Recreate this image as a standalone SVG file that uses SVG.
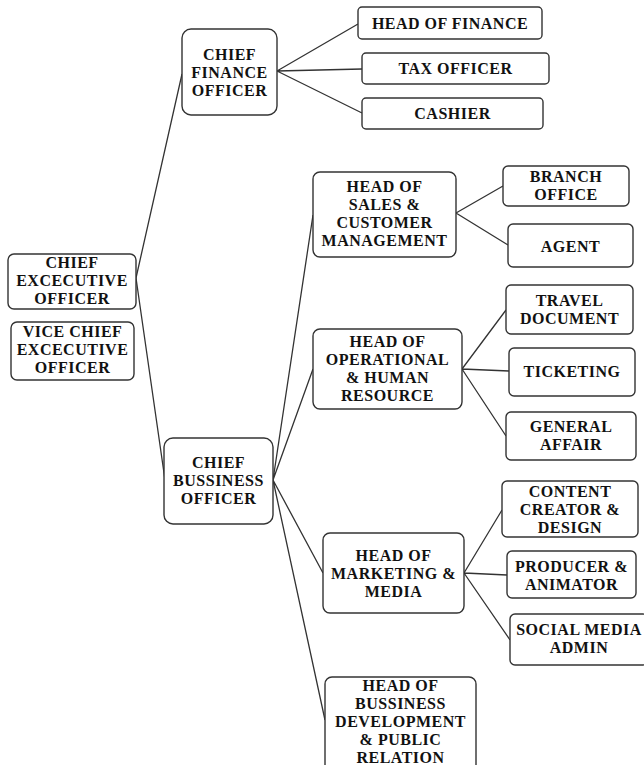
<svg xmlns="http://www.w3.org/2000/svg" width="644" height="765" viewBox="0 0 644 765">
<style>
.box{fill:#fff;stroke:#333;stroke-width:1.4}
.t{font-family:"Liberation Serif","Times New Roman",serif;font-weight:bold;font-size:16px;letter-spacing:0.5px;fill:#111;text-anchor:middle}
.c{stroke:#333;stroke-width:1.3;fill:none}
</style>
<rect width="644" height="765" fill="#fff"/>
<g id="connectors">
<path class="c" d="M136,278 L182,74 M136,278 L165,480"/>
<path class="c" d="M277,71 L358,24 M277,71 L362,69 M277,71 L362,113"/>
<path class="c" d="M273,480 L313,215 M273,480 L313,369 M273,480 L323,573 M273,480 L325,720"/>
<path class="c" d="M456,213 L503,186 M456,213 L508,245"/>
<path class="c" d="M462,369 L506,310 M462,369 L509,371 M462,369 L506,436"/>
<path class="c" d="M464,573 L502,510 M464,573 L507,575 M464,573 L510,640"/>
</g>
<g id="ceo"><rect class="box" x="8" y="254" width="128" height="55" rx="6"/>
<text class="t" x="72" y="268">CHIEF</text><text class="t" x="72" y="286">EXCECUTIVE</text><text class="t" x="72" y="304">OFFICER</text></g>
<g id="vceo"><rect class="box" x="11" y="322" width="123" height="58" rx="6"/>
<text class="t" x="72.5" y="337">VICE CHIEF</text><text class="t" x="72.5" y="355">EXCECUTIVE</text><text class="t" x="72.5" y="373">OFFICER</text></g>
<g id="cfo"><rect class="box" x="182" y="29" width="95" height="86" rx="9"/>
<text class="t" x="229.5" y="60">CHIEF</text><text class="t" x="229.5" y="78">FINANCE</text><text class="t" x="229.5" y="96">OFFICER</text></g>
<g id="hof"><rect class="box" x="358" y="7" width="184" height="32" rx="4"/>
<text class="t" x="450" y="29">HEAD OF FINANCE</text></g>
<g id="tax"><rect class="box" x="362" y="53" width="187" height="31" rx="4"/>
<text class="t" x="455.5" y="74">TAX OFFICER</text></g>
<g id="cashier"><rect class="box" x="362" y="98" width="181" height="31" rx="4"/>
<text class="t" x="452.5" y="119">CASHIER</text></g>
<g id="cbo"><rect class="box" x="164" y="438" width="109" height="86" rx="9"/>
<text class="t" x="218.5" y="468">CHIEF</text><text class="t" x="218.5" y="486">BUSSINESS</text><text class="t" x="218.5" y="504">OFFICER</text></g>
<g id="sales"><rect class="box" x="313" y="172" width="143" height="85" rx="7"/>
<text class="t" x="384.5" y="192">HEAD OF</text><text class="t" x="384.5" y="210">SALES &amp;</text><text class="t" x="384.5" y="228">CUSTOMER</text><text class="t" x="384.5" y="246">MANAGEMENT</text></g>
<g id="branch"><rect class="box" x="503" y="166" width="126" height="40" rx="5"/>
<text class="t" x="566" y="182">BRANCH</text><text class="t" x="566" y="200">OFFICE</text></g>
<g id="agent"><rect class="box" x="508" y="224" width="125" height="43" rx="5"/>
<text class="t" x="570.5" y="252">AGENT</text></g>
<g id="operational"><rect class="box" x="313" y="329" width="149" height="80" rx="7"/>
<text class="t" x="387.5" y="347">HEAD OF</text><text class="t" x="387.5" y="365">OPERATIONAL</text><text class="t" x="387.5" y="383">&amp; HUMAN</text><text class="t" x="387.5" y="401">RESOURCE</text></g>
<g id="travel"><rect class="box" x="506" y="285" width="127" height="49" rx="5"/>
<text class="t" x="569.5" y="306">TRAVEL</text><text class="t" x="569.5" y="324">DOCUMENT</text></g>
<g id="ticketing"><rect class="box" x="509" y="348" width="126" height="48" rx="5"/>
<text class="t" x="572" y="377">TICKETING</text></g>
<g id="general"><rect class="box" x="506" y="412" width="130" height="48" rx="5"/>
<text class="t" x="571" y="432">GENERAL</text><text class="t" x="571" y="450">AFFAIR</text></g>
<g id="marketing"><rect class="box" x="323" y="533" width="141" height="80" rx="7"/>
<text class="t" x="393.5" y="561">HEAD OF</text><text class="t" x="393.5" y="579">MARKETING &amp;</text><text class="t" x="393.5" y="597">MEDIA</text></g>
<g id="content"><rect class="box" x="502" y="481" width="136" height="56" rx="5"/>
<text class="t" x="570" y="497">CONTENT</text><text class="t" x="570" y="515">CREATOR &amp;</text><text class="t" x="570" y="533">DESIGN</text></g>
<g id="producer"><rect class="box" x="507" y="551" width="129" height="47" rx="5"/>
<text class="t" x="571.5" y="572">PRODUCER &amp;</text><text class="t" x="571.5" y="590">ANIMATOR</text></g>
<g id="social"><rect class="box" x="510" y="614" width="138" height="51" rx="5"/>
<text class="t" x="579" y="635">SOCIAL MEDIA</text><text class="t" x="579" y="653">ADMIN</text></g>
<g id="bizdev"><rect class="box" x="325" y="677" width="151" height="95" rx="7"/>
<text class="t" x="400.5" y="691">HEAD OF</text><text class="t" x="400.5" y="709">BUSSINESS</text><text class="t" x="400.5" y="727">DEVELOPMENT</text><text class="t" x="400.5" y="745">&amp; PUBLIC</text><text class="t" x="400.5" y="763">RELATION</text></g>
</svg>
